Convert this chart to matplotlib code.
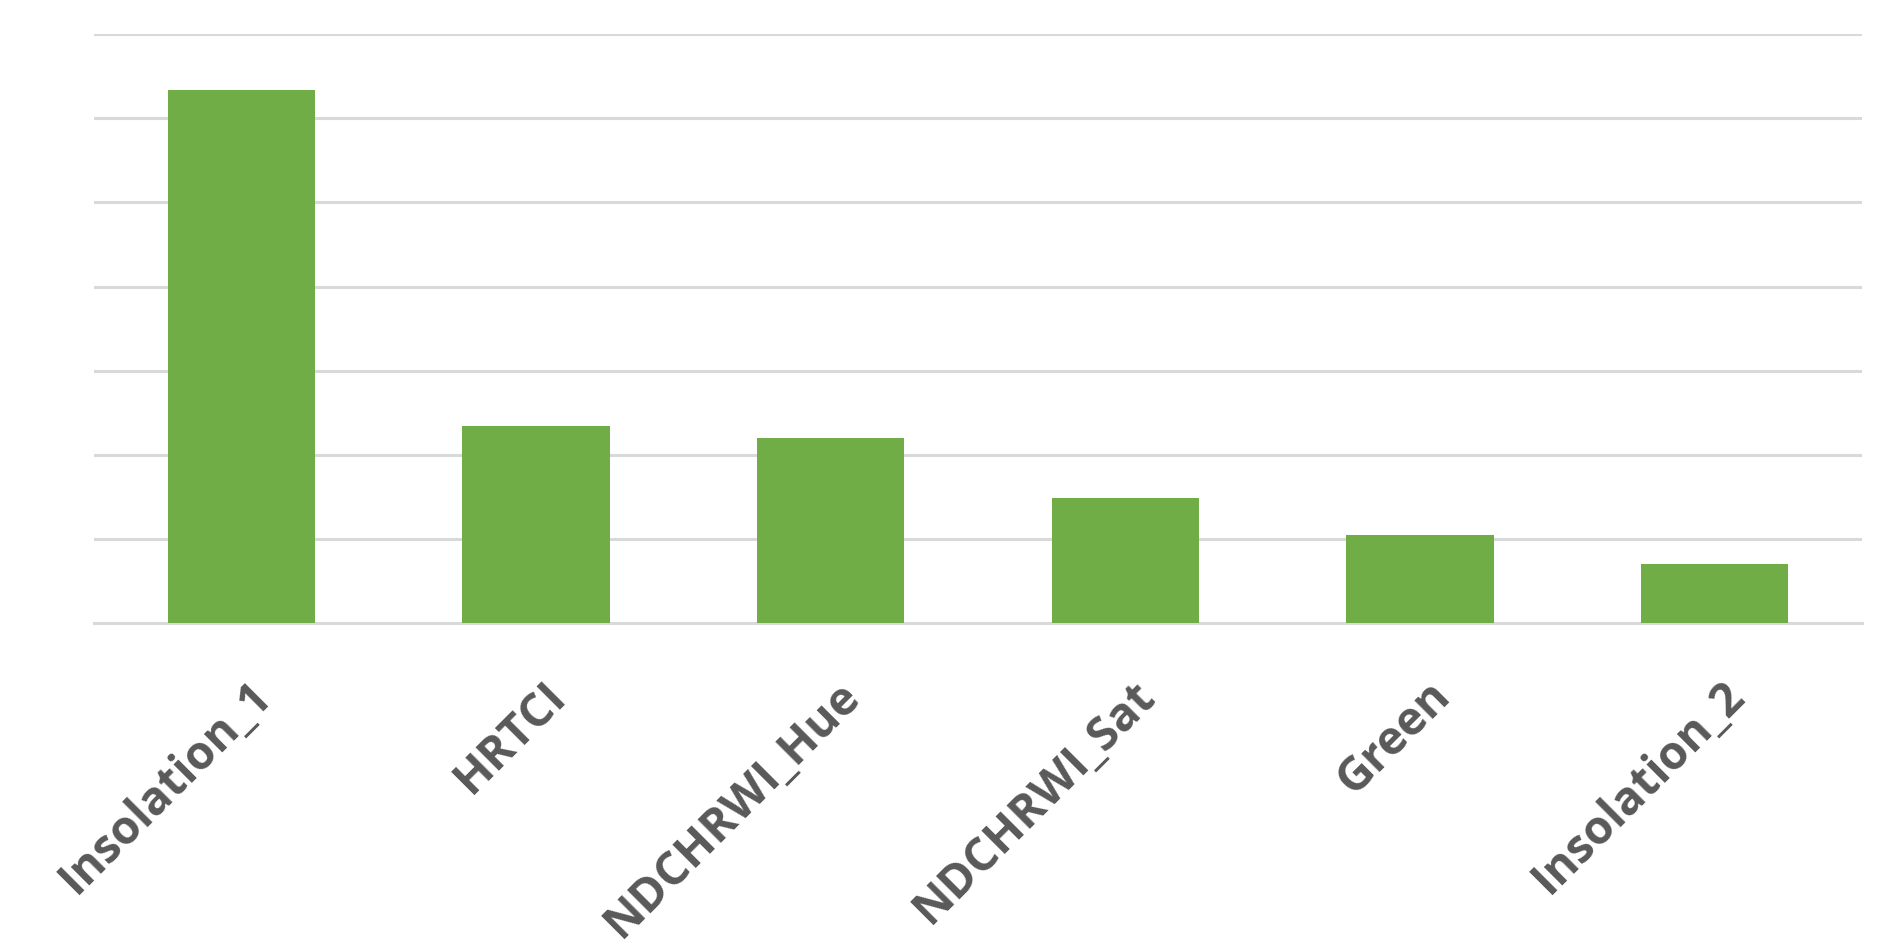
import matplotlib
matplotlib.use("Agg")
import matplotlib.pyplot as plt
from matplotlib.transforms import ScaledTranslation

categories = ["Insolation_1", "HRTCI", "NDCHRWI_Hue", "NDCHRWI_Sat", "Green", "Insolation_2"]
values = [6.33, 2.34, 2.20, 1.49, 1.05, 0.71]

fig = plt.figure(figsize=(18.95, 9.46), dpi=100)
ax = fig.add_axes([0.0496, 0.341, 0.933, 0.623])

x = list(range(len(categories)))
ax.bar(x, values, width=0.5, color="#70AD47", zorder=3)
ax.set_xlim(-0.5, len(categories) - 0.5)
ax.set_ylim(0, 7)
ax.set_yticks(range(0, 8))
ax.yaxis.grid(True, color="#d9d9d9", linewidth=2.2, zorder=0)
ax.tick_params(axis="y", length=0, labelleft=False)
ax.tick_params(axis="x", length=0, pad=47)
for s in ["top", "right", "left"]:
    ax.spines[s].set_visible(False)
ax.spines["bottom"].set_color("#d9d9d9")
ax.spines["bottom"].set_linewidth(2.2)

ax.set_xticks(x)
ax.set_xticklabels(categories, rotation=45, ha="right", va="center",
                   rotation_mode="anchor", fontsize=33.5, color="#595959",
                   fontweight="bold", family="Open Sans")
offset = ScaledTranslation(0.23, 0, fig.dpi_scale_trans)
for lbl in ax.get_xticklabels():
    lbl.set_transform(lbl.get_transform() + offset)

fig.savefig("out.png", dpi=100)
